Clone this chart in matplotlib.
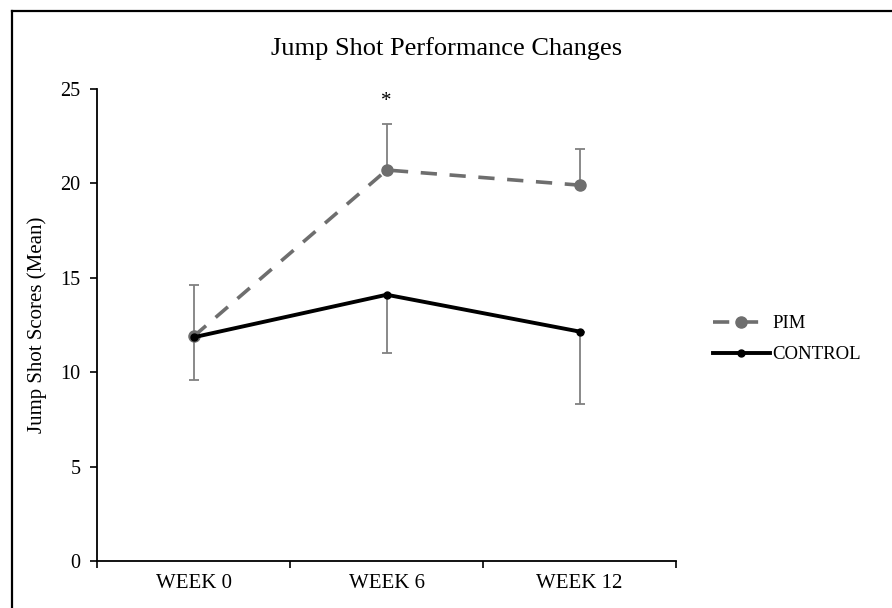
import matplotlib
matplotlib.use("Agg")
import matplotlib.pyplot as plt
import numpy as np

plt.rcParams['font.family'] = ['Liberation Serif', 'DejaVu Serif']

weeks = ["WEEK 0", "WEEK 6", "WEEK 12"]
pim_mean = [11.9, 20.7, 19.9]
pim_err_up = [2.7, 2.45, 1.9]
control_mean = [11.85, 14.1, 12.15]
control_err_down = [2.25, 3.1, 3.85]

x = np.arange(len(weeks))

fig = plt.figure(figsize=(8.92, 6.08), dpi=100)
ax = fig.add_axes([0.109, 0.077, 0.649, 0.777])

# error bars first (grey, one sided)
ax.errorbar(x, pim_mean, yerr=[np.zeros(3), pim_err_up], fmt='none',
            ecolor='#808080', elinewidth=1.3, capsize=3.5, capthick=1.3, zorder=1)
ax.errorbar(x, control_mean, yerr=[control_err_down, np.zeros(3)], fmt='none',
            ecolor='#808080', elinewidth=1.3, capsize=3.5, capthick=1.3, zorder=1)

ax.plot(x, pim_mean, color='#6e6e6e', lw=2.6, ls=(0, (4.5, 3.5)),
        marker='o', ms=8, label='PIM', zorder=2)
ax.plot(x, control_mean, color='black', lw=2.8, ls='-',
        marker='o', ms=5, label='CONTROL', zorder=3)

ax.text(1, 24.3, "*", ha='center', va='center', fontsize=15)

ax.set_xlim(-0.5, 2.5)
ax.set_ylim(0, 25)
ax.set_yticks([0, 5, 10, 15, 20, 25])
ax.set_xticks(x)
ax.set_xticklabels(weeks)
ax.set_xticks([-0.5, 0.5, 1.5, 2.5], minor=True)
ax.tick_params(axis='x', which='major', length=0, pad=9, labelsize=15)
ax.tick_params(axis='x', which='minor', length=5, width=1.2)
ax.tick_params(axis='y', length=5, width=1.2, pad=7, labelsize=14.5)

for s in ['top', 'right']:
    ax.spines[s].set_visible(False)
for s in ['left', 'bottom']:
    ax.spines[s].set_linewidth(1.3)

ax.set_ylabel("Jump Shot Scores (Mean)", fontsize=15, labelpad=10)
fig.text(0.501, 0.921, "Jump Shot Performance Changes", ha='center', va='center', fontsize=19)

ax.legend(loc='center left', bbox_to_anchor=(1.035, 0.47), frameon=False,
          fontsize=13.5, handlelength=3.0, handletextpad=0.15, labelspacing=0.75)

# outer border (left and top visible)
fig.add_artist(plt.Line2D([0.0135, 0.0135], [0, 0.982], color='black', lw=1.6, transform=fig.transFigure))
fig.add_artist(plt.Line2D([0.0135, 1], [0.982, 0.982], color='black', lw=1.6, transform=fig.transFigure))

fig.savefig("out.png", dpi=100)
